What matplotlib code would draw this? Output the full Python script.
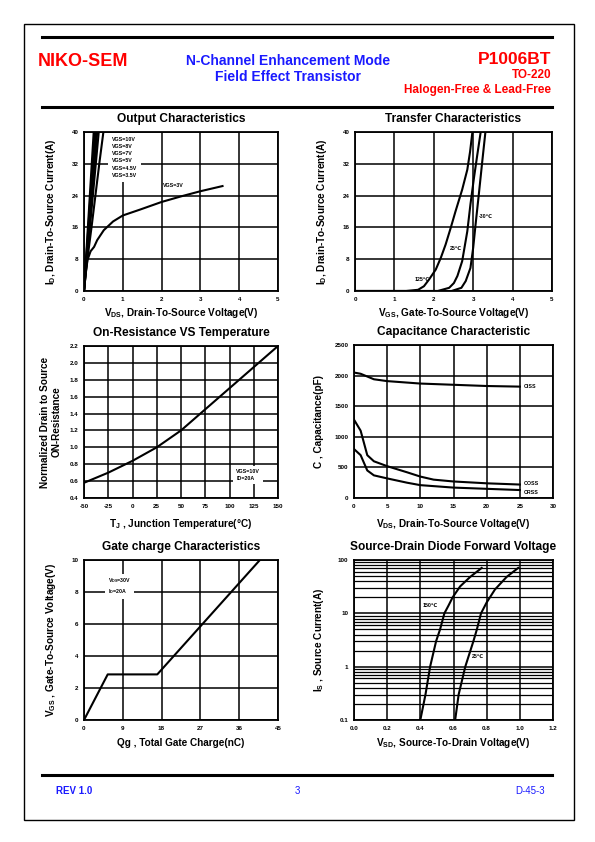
import matplotlib
matplotlib.use('Agg')
import matplotlib.pyplot as plt
from matplotlib.lines import Line2D
from matplotlib.patches import Rectangle

plt.rcParams['font.family'] = ['Liberation Sans', 'DejaVu Sans']
plt.rcParams['font.weight'] = 'bold'
plt.rcParams['axes.unicode_minus'] = False

W, H = 595, 842

# ---------------- data ----------------
# output characteristics
out_id_steep = [0.0, 40.0]
out_steep_ends = [0.25, 0.28, 0.31, 0.34, 0.38]
out_vds_35 = [0.0, 0.05, 0.1, 0.2, 0.3, 0.4, 0.5]
out_id_35 = [0.0, 5.0, 9.0, 16.5, 24.5, 32.5, 40.0]
out_vds_3 = [0.0, 0.04, 0.09, 0.17, 0.26, 0.34, 0.51, 0.75, 1.0, 1.45, 2.0, 2.5, 3.0, 3.57]
out_id_3 = [0.0, 4.0, 7.8, 10.0, 11.1, 12.8, 15.3, 17.5, 19.0, 20.5, 22.4, 23.8, 25.1, 26.4]
out_legend = ['VGS=10V', 'VGS=8V', 'VGS=7V', 'VGS=5V', 'VGS=4.5V', 'VGS=3.5V']

# transfer characteristics
tr_vgs_125 = [0.0, 1.3, 1.6, 1.75, 1.88, 2.05, 2.18, 2.3, 2.43, 2.55, 2.72, 2.85, 2.92, 2.98]
tr_id_125 = [0.0, 0.0, 0.3, 1.2, 2.9, 5.4, 8.4, 11.7, 15.9, 20.0, 25.5, 30.5, 35.0, 40.0]
tr_vgs_25 = [0.0, 2.1, 2.39, 2.51, 2.6, 2.72, 2.85, 2.93, 3.02, 3.1, 3.19]
tr_id_25 = [0.0, 0.0, 0.8, 2.0, 3.8, 7.5, 15.0, 21.8, 28.5, 34.0, 40.0]
tr_vgs_m30 = [0.0, 2.45, 2.7, 2.81, 2.93, 3.0, 3.06, 3.15, 3.23, 3.31]
tr_id_m30 = [0.0, 0.0, 0.8, 2.5, 5.8, 10.9, 16.7, 25.0, 32.6, 40.0]

# on-resistance vs temperature
rt_temp = [-50, -25, 0, 25, 50, 75, 100, 125, 150]
rt_rds = [0.58, 0.70, 0.84, 1.0, 1.2, 1.45, 1.7, 1.95, 2.2]

# capacitance
cap_vds_ciss = [0, 1, 3, 5, 10, 15, 20, 25]
cap_ciss = [2050, 2030, 1940, 1910, 1870, 1850, 1830, 1820]
cap_vds_coss = [0, 1, 2, 3, 5, 8, 10, 12, 15, 20, 25]
cap_coss = [1280, 1100, 700, 600, 520, 420, 350, 300, 270, 240, 220]
cap_vds_crss = [0, 1, 2, 3, 5, 8, 10, 15, 20, 25]
cap_crss = [800, 700, 450, 370, 320, 250, 210, 170, 150, 130]

# gate charge
gc_qg = [0, 5.5, 17.0, 40.8]
gc_vgs = [0, 2.85, 2.85, 10.0]

# diode forward voltage
dd_vsd_150 = [0.40, 0.431, 0.459, 0.495, 0.519, 0.545, 0.57, 0.595, 0.64, 0.70, 0.77]
dd_is_150 = [0.1, 0.3, 1.0, 3.0, 5.0, 10.0, 14.0, 20.0, 32.0, 48.0, 71.0]
dd_vsd_25 = [0.61, 0.631, 0.671, 0.72, 0.741, 0.766, 0.80, 0.85, 0.92, 0.99]
dd_is_25 = [0.1, 0.3, 1.0, 3.0, 5.0, 10.0, 16.0, 28.0, 48.0, 71.0]


fig = plt.figure(figsize=(W / 100, H / 100), dpi=100)
fig.patch.set_facecolor('white')


def px_axes(left, top, right, bottom):
    return fig.add_axes([left / W, 1 - bottom / H, (right - left) / W, (bottom - top) / H])


def style(ax, title, xlabel, ylabel, xlim, ylim, xticks, yticks, xtl=None, ytl=None,
          xpad=3, ypad=10):
    ax.set_xlim(*xlim)
    ax.set_ylim(*ylim)
    ax.set_xticks(xticks)
    ax.set_yticks(yticks)
    if xtl is not None:
        ax.set_xticklabels(xtl)
    if ytl is not None:
        ax.set_yticklabels(ytl)
    ax.grid(True, color='black', linewidth=1.1)
    ax.set_axisbelow(True)
    for s in ax.spines.values():
        s.set_linewidth(1.3)
    ax.tick_params(length=0, labelsize=4.5, pad=4)
    for t in ax.get_xticklabels() + ax.get_yticklabels():
        t.set_fontweight('bold')
    ax.set_title(title, fontsize=8.6, fontweight='bold', pad=7)
    ax.set_xlabel(xlabel, fontsize=7.2, fontweight='bold', labelpad=xpad)
    ax.set_ylabel(ylabel, fontsize=7.2, fontweight='bold', labelpad=ypad)


LW = 1.5
SMALL = 3.8

# ---------------- Output characteristics ----------------
ax1 = px_axes(84, 132, 278, 291)
style(ax1, 'Output Characteristics', r'V$_{\mathregular{DS}}$, Drain-To-Source Voltage(V)',
      r'I$_{\mathregular{D}}$, Drain-To-Source Current(A)', (0, 5), (0, 40),
      range(0, 6), range(0, 41, 8), xpad=3)
for end in out_steep_ends:
    ax1.plot([0, end], out_id_steep, color='black', lw=LW)
ax1.plot(out_vds_35, out_id_35, color='black', lw=LW)
ax1.plot(out_vds_3, out_id_3, color='black', lw=LW)
ax1.text(0.72, 38.8, '\n'.join(out_legend), fontsize=SMALL, fontweight='bold', va='top',
         linespacing=1.55, bbox=dict(facecolor='white', edgecolor='none', pad=3))
ax1.text(2.3, 26.0, 'VGS=3V', fontsize=SMALL, fontweight='bold', ha='center', va='bottom')

# ---------------- Transfer characteristics ----------------
ax2 = px_axes(355, 132, 552, 291)
style(ax2, 'Transfer Characteristics', r'V$_{\mathregular{GS}}$, Gate-To-Source Voltage(V)',
      r'I$_{\mathregular{D}}$, Drain-To-Source Current(A)', (0, 5), (0, 40),
      range(0, 6), range(0, 41, 8), xpad=3)
ax2.plot(tr_vgs_125, tr_id_125, color='black', lw=LW)
ax2.plot(tr_vgs_25, tr_id_25, color='black', lw=LW)
ax2.plot(tr_vgs_m30, tr_id_m30, color='black', lw=LW)
ax2.text(1.9, 3.0, '125\u2103', fontsize=SMALL, fontweight='bold', ha='right', va='center')
ax2.text(2.4, 10.7, '25\u2103', fontsize=SMALL, fontweight='bold', ha='left', va='center')
ax2.text(3.15, 18.7, '-30\u2103', fontsize=SMALL, fontweight='bold', ha='left', va='center')

# ---------------- On-resistance vs temperature ----------------
ax3 = px_axes(84, 346, 278, 498)
style(ax3, 'On-Resistance VS Temperature', r'T$_{\mathregular{J}}$ , Junction Temperature(' + '\u00b0' + 'C)',
      'Normalized Drain to Source\nON-Resistance', (-50, 150), (0.4, 2.2),
      range(-50, 151, 25), [0.4 + 0.2 * i for i in range(10)],
      ytl=['%.1f' % (0.4 + 0.2 * i) for i in range(10)], xpad=6, ypad=5.5)
ax3.plot(rt_temp, rt_rds, color='black', lw=LW)
ax3.text(107, 0.67, 'VGS=10V\nID=20A', fontsize=SMALL, fontweight='bold', va='center',
         linespacing=1.5, bbox=dict(facecolor='white', edgecolor='none', pad=2))

# ---------------- Capacitance ----------------
ax4 = px_axes(354, 345, 553, 498)
style(ax4, 'Capacitance Characteristic', r'V$_{\mathregular{DS}}$, Drain-To-Source Voltage(V)',
      'C , Capacitance(pF)', (0, 30), (0, 2500),
      range(0, 31, 5), range(0, 2501, 500), xpad=6, ypad=7.5)
ax4.plot(cap_vds_ciss, cap_ciss, color='black', lw=LW)
ax4.plot(cap_vds_coss, cap_coss, color='black', lw=LW)
ax4.plot(cap_vds_crss, cap_crss, color='black', lw=LW)
ax4.text(25.6, 1820, 'CISS', fontsize=SMALL, fontweight='bold', va='center')
ax4.text(25.6, 240, 'COSS', fontsize=SMALL, fontweight='bold', va='center')
ax4.text(25.6, 95, 'CRSS', fontsize=SMALL, fontweight='bold', va='center')

# ---------------- Gate charge ----------------
ax5 = px_axes(84, 560, 278, 720)
style(ax5, 'Gate charge Characteristics', 'Qg , Total Gate Charge(nC)',
      r'V$_{\mathregular{GS}}$ , Gate-To-Source Voltage(V)', (0, 45), (0, 10),
      range(0, 46, 9), range(0, 11, 2), xpad=5.5)
ax5.plot(gc_qg, gc_vgs, color='black', lw=LW)
ax5.text(5.5, 8.35, r'V$_{\mathregular{DS}}$=30V' + '\n' + r'I$_{\mathregular{D}}$=20A', fontsize=SMALL,
         fontweight='bold', va='center', linespacing=1.4,
         bbox=dict(facecolor='white', edgecolor='none', pad=2))

# ---------------- Diode forward voltage ----------------
ax6 = px_axes(354, 560, 553, 720)
ax6.set_yscale('log')
style(ax6, 'Source-Drain Diode Forward Voltage', r'V$_{\mathregular{SD}}$, Source-To-Drain Voltage(V)',
      r'I$_{\mathregular{S}}$ , Source Current(A)', (0, 1.2), (0.1, 100),
      [0.2 * i for i in range(7)], [0.1, 1, 10, 100],
      xtl=['%.1f' % (0.2 * i) for i in range(7)], ytl=['0.1', '1', '10', '100'],
      xpad=4, ypad=8.5)
ax6.minorticks_on()
ax6.grid(True, which='minor', axis='y', color='black', linewidth=0.9)
ax6.tick_params(which='minor', length=0)
ax6.xaxis.set_minor_locator(matplotlib.ticker.NullLocator())
ax6.yaxis.set_minor_formatter(matplotlib.ticker.NullFormatter())
ax6.plot(dd_vsd_150, dd_is_150, color='black', lw=LW)
ax6.plot(dd_vsd_25, dd_is_25, color='black', lw=LW)
ax6.text(0.46, 14, '150\u2103', fontsize=SMALL, fontweight='bold', ha='center', va='center')
ax6.text(0.71, 1.55, '25\u2103', fontsize=SMALL, fontweight='bold', ha='left', va='center')

# ---------------- page frame, header, footer ----------------
fig.add_artist(Rectangle((24 / W, 1 - 820 / H), (574 - 24) / W, (820 - 24) / H,
                         transform=fig.transFigure, fill=False, edgecolor='black', lw=1.0))
for y in (37, 107, 775):
    fig.add_artist(Line2D([42 / W, 552 / W], [1 - y / H, 1 - y / H], color='black', lw=2.2,
                          transform=fig.transFigure))

red = '#ff0000'
blue = '#1a1aff'
fig.text(38 / W, 1 - 62 / H, 'NIKO-SEM', color=red, fontsize=13, fontweight='bold', va='center')
fig.text(288 / W, 1 - 61 / H, 'N-Channel Enhancement Mode', color=blue, fontsize=10,
         fontweight='bold', ha='center', va='center')
fig.text(288 / W, 1 - 77 / H, 'Field Effect Transistor', color=blue, fontsize=10,
         fontweight='bold', ha='center', va='center')
fig.text(551 / W, 1 - 59 / H, 'P1006BT', color=red, fontsize=12.5, fontweight='bold',
         ha='right', va='center')
fig.text(551 / W, 1 - 75 / H, 'TO-220', color=red, fontsize=8.5, fontweight='bold',
         ha='right', va='center')
fig.text(551 / W, 1 - 90 / H, 'Halogen-Free & Lead-Free', color=red, fontsize=8.5,
         fontweight='bold', ha='right', va='center')

fig.text(56 / W, 1 - 791 / H, 'REV 1.0', color=blue, fontsize=7, fontweight='bold', va='center')
fig.text(297 / W, 1 - 791 / H, '3', color=blue, fontsize=7, fontweight='normal', ha='center', va='center')
fig.text(545 / W, 1 - 791 / H, 'D-45-3', color=blue, fontsize=7, fontweight='normal',
         ha='right', va='center')

fig.savefig('out.png', dpi=100, facecolor='white')
